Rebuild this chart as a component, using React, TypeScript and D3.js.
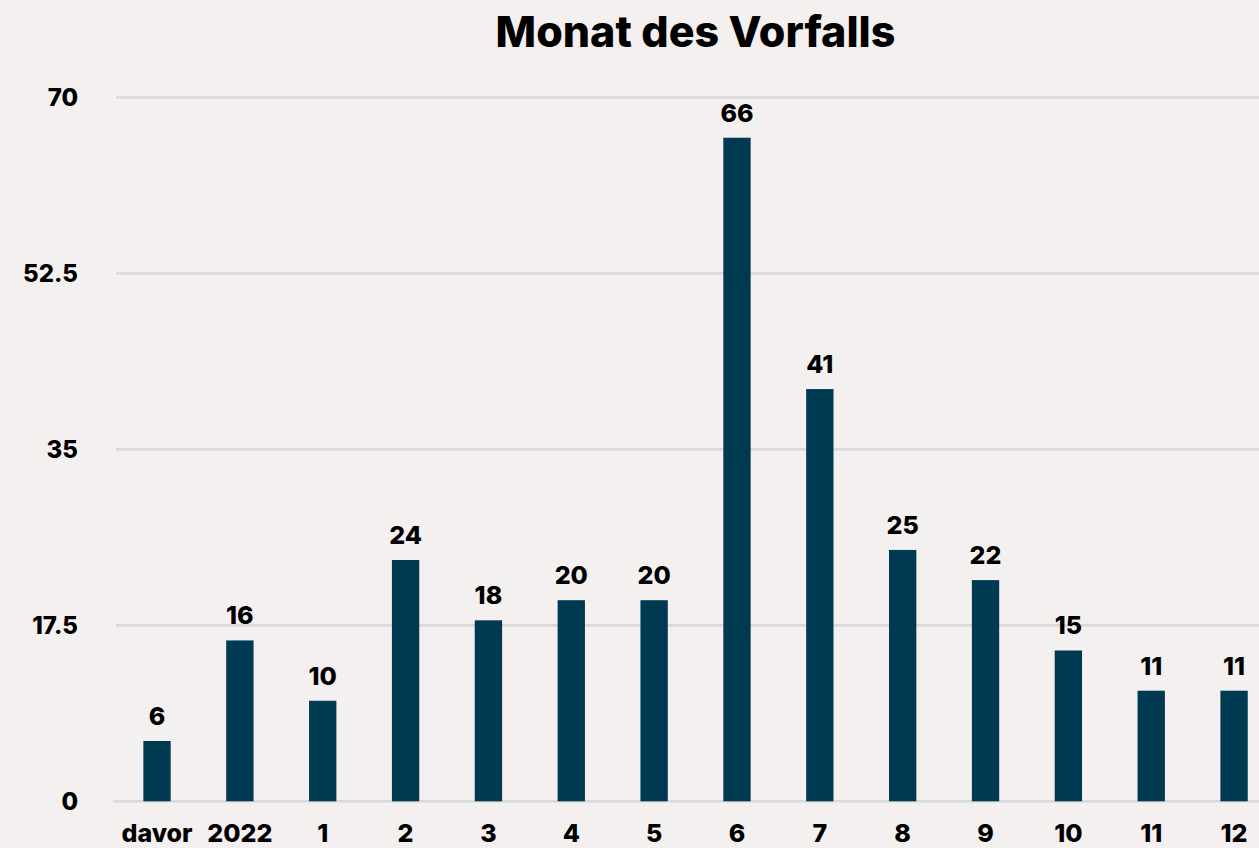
import { useEffect, useRef } from 'react';
import * as d3 from 'd3';

const months = ['davor', '2022', '1', '2', '3', '4', '5', '6', '7', '8', '9', '10', '11', '12'];
const counts = [6, 16, 10, 24, 18, 20, 20, 66, 41, 25, 22, 15, 11, 11];
const yTicks = [0, 17.5, 35, 52.5, 70];
const title = 'Monat des Vorfalls';

const FONT = 'Inter, "DejaVu Sans", sans-serif';

export default function App() {
  const svgRef = useRef<SVGSVGElement | null>(null);

  useEffect(() => {
    if (!svgRef.current) return;

    const width = 1259;
    const height = 848;

    const svg = d3.select(svgRef.current);
    svg.selectAll('*').remove();

    svg.append('rect')
      .attr('width', width)
      .attr('height', height)
      .attr('fill', '#f4f0ef');

    const x = d3.scaleBand<string>()
      .domain(months)
      .range([115.6, 1275.5])
      .paddingInner(0.67)
      .paddingOuter(0.335);

    const y = d3.scaleLinear()
      .domain([0, 70])
      .range([801.3, 97.5]);

    // gridlines
    svg.append('g')
      .selectAll('line')
      .data(yTicks)
      .enter()
      .append('line')
      .attr('x1', d => (d === 0 ? 113 : 116))
      .attr('x2', width)
      .attr('y1', d => y(d))
      .attr('y2', d => y(d))
      .attr('stroke', '#d9d9d9')
      .attr('stroke-width', 2.6);

    // y tick labels
    svg.append('g')
      .selectAll('text')
      .data(yTicks)
      .enter()
      .append('text')
      .attr('x', 78)
      .attr('y', d => y(d))
      .attr('dy', '0.36em')
      .attr('text-anchor', 'end')
      .attr('font-family', FONT)
      .attr('font-size', '24px')
      .attr('font-weight', 800)
      .attr('fill', '#000')
      .text(d => String(d));

    // bars
    svg.append('g')
      .selectAll('rect')
      .data(counts)
      .enter()
      .append('rect')
      .attr('x', (_, i) => x(months[i])!)
      .attr('y', d => y(d))
      .attr('width', x.bandwidth())
      .attr('height', d => y(0) - y(d))
      .attr('fill', '#003a52');

    // value labels
    svg.append('g')
      .selectAll('text')
      .data(counts)
      .enter()
      .append('text')
      .attr('x', (_, i) => x(months[i])! + x.bandwidth() / 2)
      .attr('y', d => y(d) - 16)
      .attr('text-anchor', 'middle')
      .attr('font-family', FONT)
      .attr('font-size', '25px')
      .attr('font-weight', 800)
      .attr('fill', '#000')
      .text(d => String(d));

    // x labels
    svg.append('g')
      .selectAll('text')
      .data(months)
      .enter()
      .append('text')
      .attr('x', d => x(d)! + x.bandwidth() / 2)
      .attr('y', 842)
      .attr('text-anchor', 'middle')
      .attr('font-family', FONT)
      .attr('font-size', '25px')
      .attr('font-weight', 800)
      .attr('fill', '#000')
      .text(d => d);

    svg.append('text')
      .attr('x', 695.5)
      .attr('y', 47)
      .attr('text-anchor', 'middle')
      .attr('font-family', FONT)
      .attr('font-size', '43px')
      .attr('font-weight', 800)
      .attr('fill', '#000')
      .text(title);
  }, []);

  return (
    <div style={{ position: 'absolute', left: 0, top: 0, width: 1259, height: 848, overflow: 'hidden' }}>
      <svg ref={svgRef} width={1259} height={848} style={{ display: 'block' }} />
    </div>
  );
}
